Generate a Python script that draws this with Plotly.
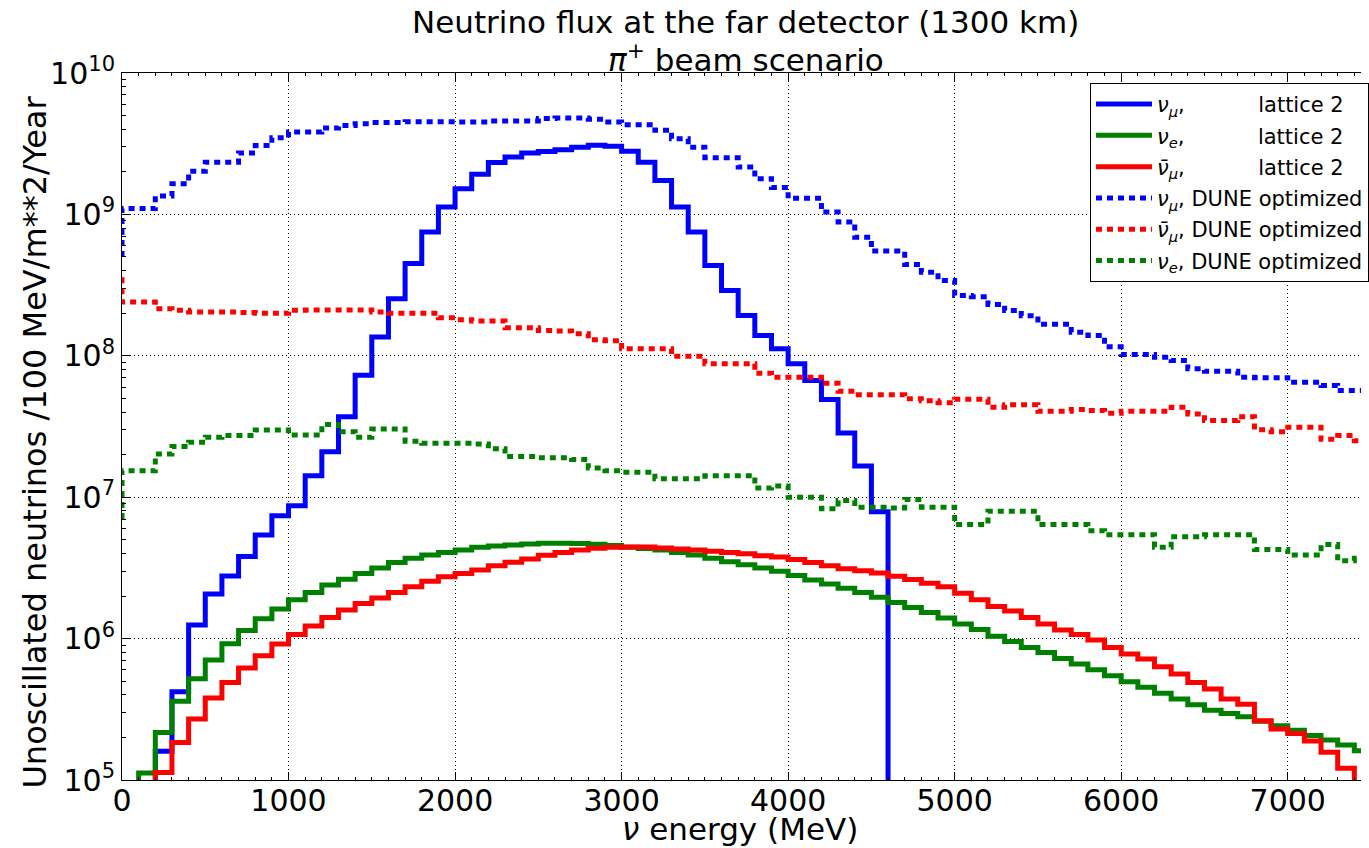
import plotly.graph_objects as go

# ---------------- data ----------------
bin_edges = list(range(0, 7600, 100))  # MeV, 100 MeV bins

# lattice 2 histograms (value per 100 MeV bin, 0 = empty bin)
numu_lattice2 = [0, 0, 1.6e5, 4.2e5, 1.25e6, 2.07e6, 2.77e6, 3.8e6, 5.4e6, 7.4e6,
                 8.7e6, 1.42e7, 2.1e7, 3.7e7, 7.3e7, 1.36e8, 2.53e8, 4.5e8, 7.5e8, 1.13e9,
                 1.52e9, 1.92e9, 2.33e9, 2.55e9, 2.72e9, 2.78e9, 2.87e9, 2.99e9, 3.08e9, 3.03e9,
                 2.8e9, 2.34e9, 1.74e9, 1.13e9, 7.5e8, 4.35e8, 2.9e8, 1.93e8, 1.39e8, 1.12e8,
                 8.8e7, 6.7e7, 4.9e7, 2.85e7, 1.66e7, 7.9e6, 0, 0, 0, 0,
                 0, 0, 0, 0, 0, 0, 0, 0, 0, 0,
                 0, 0, 0, 0, 0, 0, 0, 0, 0, 0,
                 0, 0, 0, 0, 0]
nue_lattice2 = [0, 1.12e5, 2.17e5, 3.6e5, 5.2e5, 7.05e5, 9.2e5, 1.14e6, 1.38e6, 1.62e6,
                1.88e6, 2.12e6, 2.39e6, 2.63e6, 2.89e6, 3.16e6, 3.45e6, 3.7e6, 3.9e6, 4.07e6,
                4.24e6, 4.42e6, 4.52e6, 4.6e6, 4.67e6, 4.72e6, 4.72e6, 4.7e6, 4.65e6, 4.55e6,
                4.42e6, 4.33e6, 4.24e6, 4.07e6, 3.9e6, 3.7e6, 3.5e6, 3.33e6, 3.16e6, 2.99e6,
                2.79e6, 2.6e6, 2.43e6, 2.27e6, 2.12e6, 1.96e6, 1.8e6, 1.66e6, 1.53e6, 1.4e6,
                1.27e6, 1.16e6, 1.04e6, 9.55e5, 8.66e5, 7.99e5, 7.24e5, 6.61e5, 6.02e5, 5.46e5,
                4.95e5, 4.52e5, 4.1e5, 3.74e5, 3.4e5, 3.12e5, 2.95e5, 2.8e5, 2.6e5, 2.42e5,
                2.25e5, 2.06e5, 1.92e5, 1.77e5, 1.61e5]
numubar_lattice2 = [0, 0, 1.13e5, 1.84e5, 2.7e5, 3.8e5, 4.9e5, 6.2e5, 7.57e5, 9.16e5,
                    1.07e6, 1.23e6, 1.41e6, 1.59e6, 1.77e6, 1.94e6, 2.12e6, 2.33e6, 2.54e6, 2.74e6,
                    2.89e6, 3.05e6, 3.28e6, 3.46e6, 3.66e6, 3.88e6, 4.07e6, 4.24e6, 4.35e6, 4.42e6,
                    4.44e6, 4.44e6, 4.38e6, 4.3e6, 4.24e6, 4.14e6, 4.06e6, 3.98e6, 3.85e6, 3.78e6,
                    3.62e6, 3.45e6, 3.27e6, 3.12e6, 3.02e6, 2.91e6, 2.76e6, 2.62e6, 2.46e6, 2.33e6,
                    2.09e6, 1.88e6, 1.69e6, 1.57e6, 1.41e6, 1.27e6, 1.15e6, 1.07e6, 9.77e5, 8.66e5,
                    7.78e5, 7.17e5, 6.33e5, 5.61e5, 4.9e5, 4.4e5, 3.74e5, 3.44e5, 2.62e5, 2.29e5,
                    2.13e5, 1.89e5, 1.57e5, 1.21e5, 9.5e4]

# DUNE optimized fluxes: value at E=0, then value per 100 MeV bin
numu_dune_start = 5e8
numu_dune = [1.1e9, 1.1e9, 1.35e9, 1.65e9, 2.02e9, 2.34e9, 2.34e9, 2.72e9, 3.07e9, 3.49e9,
             3.82e9, 3.82e9, 4.08e9, 4.26e9, 4.38e9, 4.46e9, 4.46e9, 4.53e9, 4.53e9, 4.53e9,
             4.5e9, 4.5e9, 4.58e9, 4.58e9, 4.58e9, 4.76e9, 4.8e9, 4.8e9, 4.7e9, 4.5e9,
             4.31e9, 4.31e9, 3.93e9, 3.43e9, 2.99e9, 2.52e9, 2.52e9, 2.16e9, 1.79e9, 1.55e9,
             1.3e9, 1.3e9, 1.04e9, 8.83e8, 6.9e8, 5.5e8, 5.5e8, 4.43e8, 3.9e8, 3.41e8,
             2.67e8, 2.62e8, 2.31e8, 2.09e8, 1.92e8, 1.67e8, 1.67e8, 1.47e8, 1.39e8, 1.16e8,
             1.02e8, 1.02e8, 9.78e7, 9.27e7, 8.1e7, 7.78e7, 7.78e7, 7.06e7, 7.0e7, 7.0e7,
             6.5e7, 6.5e7, 6.17e7, 5.68e7, 5.68e7]
numubar_dune_start = 3.6e8
numubar_dune = [2.4e8, 2.4e8, 2.15e8, 2.1e8, 2.04e8, 2.04e8, 2.04e8, 2.02e8, 2.0e8, 2.0e8,
                2.1e8, 2.11e8, 2.11e8, 2.11e8, 2.11e8, 2.04e8, 2.0e8, 2.0e8, 2.0e8, 1.86e8,
                1.8e8, 1.76e8, 1.76e8, 1.58e8, 1.58e8, 1.51e8, 1.5e8, 1.43e8, 1.3e8, 1.28e8,
                1.12e8, 1.12e8, 1.12e8, 9.93e7, 9.93e7, 8.77e7, 8.77e7, 8.77e7, 7.53e7, 7.06e7,
                7.06e7, 7.06e7, 6.4e7, 5.62e7, 5.3e7, 5.3e7, 5.3e7, 4.97e7, 4.8e7, 4.65e7,
                4.92e7, 4.92e7, 4.33e7, 4.5e7, 4.5e7, 4.05e7, 4.05e7, 4.17e7, 4.1e7, 3.93e7,
                4.05e7, 4.05e7, 4.05e7, 4.32e7, 3.88e7, 3.48e7, 3.48e7, 3.71e7, 3.0e7, 2.9e7,
                3.13e7, 3.13e7, 2.57e7, 2.73e7, 2.51e7]
nue_dune_start = 7e6
nue_dune = [1.54e7, 1.54e7, 2.02e7, 2.28e7, 2.45e7, 2.65e7, 2.73e7, 2.73e7, 2.99e7, 2.99e7,
            2.75e7, 2.75e7, 3.27e7, 2.9e7, 2.65e7, 3.04e7, 3.04e7, 2.49e7, 2.41e7, 2.41e7,
            2.41e7, 2.38e7, 2.2e7, 1.94e7, 1.94e7, 1.9e7, 1.9e7, 1.85e7, 1.61e7, 1.54e7,
            1.5e7, 1.5e7, 1.35e7, 1.35e7, 1.35e7, 1.42e7, 1.42e7, 1.42e7, 1.16e7, 1.2e7,
            1.0e7, 1.0e7, 8.27e6, 9.46e6, 8.5e6, 8.5e6, 8.4e6, 9.65e6, 8.5e6, 8.5e6,
            6.4e6, 6.4e6, 7.95e6, 7.95e6, 7.95e6, 6.4e6, 6.4e6, 6.4e6, 5.8e6, 5.43e6,
            5.43e6, 5.43e6, 4.42e6, 5.25e6, 5.25e6, 5.43e6, 5.43e6, 5.43e6, 4.27e6, 4.27e6,
            3.9e6, 3.9e6, 4.62e6, 3.55e6, 3.7e6]

y_tick_vals = [1e5, 1e6, 1e7, 1e8, 1e9, 1e10]
y_tick_text = ["10<sup>5</sup>", "10<sup>6</sup>", "10<sup>7</sup>", "10<sup>8</sup>",
               "10<sup>9</sup>", "10<sup>10</sup>"]
x_tick_vals = [0, 1000, 2000, 3000, 4000, 5000, 6000, 7000]

FLOOR = 1.0  # empty bins on the log axis (far below the visible range)

def step_trace(start, values, name, color, dash):
    ys = [start if start > 0 else FLOOR] + [v if v > 0 else FLOOR for v in values]
    return go.Scatter(x=bin_edges, y=ys, mode="lines", name=name, line_shape="vh",
                      line=dict(color=color, width=5, dash=dash), legendgroup=name,
                      hoverinfo="skip")

BLUE, GREEN, RED = "#0000ff", "#008000", "#ff0000"
DOT = "6px,5px"
sp = "\u00a0"
lbl_numu = "<i>ν</i><sub><i>μ</i></sub>,"
lbl_nue = "<i>ν</i><sub><i>e</i></sub>,"
lbl_numubar = "<i>ν̄</i><sub><i>μ</i></sub>,"

fig = go.Figure()
fig.add_trace(step_trace(0, numu_lattice2, lbl_numu + sp * 11 + "lattice 2", BLUE, "solid"))
fig.add_trace(step_trace(0, nue_lattice2, lbl_nue + sp * 11 + "lattice 2", GREEN, "solid"))
fig.add_trace(step_trace(0, numubar_lattice2, lbl_numubar + sp * 11 + "lattice 2", RED, "solid"))
fig.add_trace(step_trace(numu_dune_start, numu_dune, lbl_numu + " DUNE optimized", BLUE, DOT))
fig.add_trace(step_trace(numubar_dune_start, numubar_dune, lbl_numubar + " DUNE optimized", RED, DOT))
fig.add_trace(step_trace(nue_dune_start, nue_dune, lbl_nue + " DUNE optimized", GREEN, DOT))

minor_y = [k * 10 ** n for n in range(5, 10) for k in range(2, 10)]

fig.update_layout(
    width=1369, height=848,
    margin=dict(l=122, r=0, t=73, b=68),
    paper_bgcolor="white", plot_bgcolor="white",
    font=dict(family="DejaVu Sans", color="black", size=28),
    showlegend=True,
    legend=dict(x=0.7815, y=0.986, xanchor="left", yanchor="top",
                bordercolor="black", borderwidth=1, bgcolor="white",
                font=dict(size=21), tracegroupgap=1, itemwidth=56),
    xaxis=dict(range=[0, 7440], tickvals=x_tick_vals, ticks="inside", ticklen=8,
               tickcolor="black", showline=True, linecolor="black", linewidth=1,
               mirror="ticks", zeroline=False, showgrid=True, gridcolor="black",
               griddash="1px,3px", gridwidth=1, tickfont=dict(size=30),
               ticklabelstandoff=-6,
               minor=dict(dtick=100, ticks="inside", ticklen=3, tickcolor="black", showgrid=False)),
    yaxis=dict(type="log", range=[5, 10], tickvals=y_tick_vals, ticktext=y_tick_text,
               ticks="inside", ticklen=8, tickcolor="black", showline=True,
               linecolor="black", linewidth=1, mirror=False, zeroline=False,
               showgrid=True, gridcolor="black", griddash="1px,3px", gridwidth=1,
               tickfont=dict(size=30),
               minor=dict(tickvals=minor_y, ticks="inside", ticklen=4, tickcolor="black",
                          showgrid=False)),
    annotations=[
        dict(text="Neutrino flux at the far detector (1300 km)", xref="paper", yref="paper",
             x=0.5036, y=1.0, yshift=51, xanchor="center", yanchor="middle", showarrow=False,
             font=dict(size=31)),
        dict(text="<i>π</i><sup>+</sup> beam scenario", xref="paper", yref="paper",
             x=0.5036, y=1.0, yshift=15, xanchor="center", yanchor="middle", showarrow=False,
             font=dict(size=31)),
        dict(text="<i>ν</i> energy (MeV)", xref="paper", yref="paper",
             x=0.4985, y=-0.069, xanchor="center", yanchor="middle", showarrow=False,
             font=dict(size=31)),
        dict(text="Unoscillated neutrinos /100 MeV/m**2/Year", xref="paper", yref="paper",
             x=-0.0698, y=0.478, xanchor="center", yanchor="middle", textangle=-90,
             showarrow=False, font=dict(size=32)),
    ],
)

fig.write_html("out.html")
